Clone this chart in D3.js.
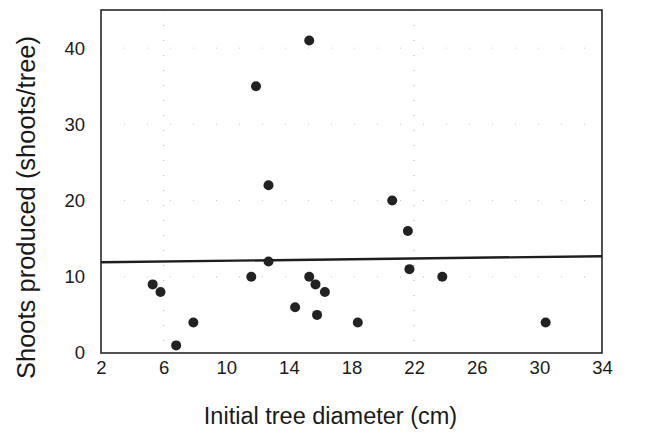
<!DOCTYPE html>
<html>
<head>
<meta charset="utf-8">
<script src="https://cdn.jsdelivr.net/npm/d3@7"></script>
<style>
  html, body { margin: 0; padding: 0; background: #fff; }
  svg { display: block; }
  text { font-family: "Liberation Sans", Arial, Helvetica, sans-serif; fill: #1a1a1a; }
</style>
</head>
<body>
<svg id="chart" width="652" height="434"></svg>
<script>
// Data
const diameters = [5.3, 5.8, 6.8, 7.9, 11.6, 11.9, 12.7, 12.7, 14.4, 15.3, 15.3, 15.7, 15.8, 16.3, 18.4, 20.6, 21.6, 21.7, 23.8, 30.4];
const shoots    = [9,   8,   1,   4,   10,   35,   22,   12,   6,    41,   10,   9,    5,    8,    4,    20,   16,   11,   10,   4];
const xTicks = [2, 6, 10, 14, 18, 22, 26, 30, 34];
const yTicks = [0, 10, 20, 30, 40];
const fitX = [2, 34];
const fitY = [11.9, 12.7];
const gridX = [6, 22];
const gridY = [10, 20, 30, 40];
const xTitle = "Initial tree diameter (cm)";
const yTitle = "Shoots produced (shoots/tree)";

const svg = d3.select("#chart");
const L = 101, R = 602, T = 10, B = 353;

const x = d3.scaleLinear().domain([2, 34]).range([L, R]);
const y = d3.scaleLinear().domain([0, 45]).range([B, T]);

// faint dotted grid (as in the scanned original)
svg.append("g").selectAll("line.gx").data(gridX).join("line")
  .attr("x1", d => x(d)).attr("x2", d => x(d)).attr("y1", T).attr("y2", B)
  .attr("stroke", "#b5b5b5").attr("stroke-width", 1).attr("stroke-dasharray", "1,14");
svg.append("g").selectAll("line.gy").data(gridY).join("line")
  .attr("x1", L).attr("x2", R).attr("y1", d => y(d)).attr("y2", d => y(d))
  .attr("stroke", "#c8c8c8").attr("stroke-width", 1).attr("stroke-dasharray", "1,22");

// axes (labels only, no tick marks)
const xAxis = svg.append("g").attr("transform", `translate(0,${B})`)
  .call(d3.axisBottom(x).tickValues(xTicks).tickSize(0).tickPadding(8).tickFormat(d3.format("d")));
xAxis.select(".domain").remove();
xAxis.selectAll("text").attr("font-size", 18.5).style("font-family", '"Liberation Sans", Arial, sans-serif').attr("fill", "#1a1a1a");

const yAxis = svg.append("g").attr("transform", `translate(${L},0)`)
  .call(d3.axisLeft(y).tickValues(yTicks).tickSize(0).tickPadding(16).tickFormat(d3.format("d")));
yAxis.select(".domain").remove();
yAxis.selectAll("text").attr("font-size", 18.5).style("font-family", '"Liberation Sans", Arial, sans-serif').attr("fill", "#1a1a1a");

// frame
svg.append("rect").attr("x", L).attr("y", T).attr("width", R - L).attr("height", B - T)
  .attr("fill", "none").attr("stroke", "#262626").attr("stroke-width", 1.6);

// regression line
svg.append("line")
  .attr("x1", x(fitX[0])).attr("y1", y(fitY[0]))
  .attr("x2", x(fitX[1])).attr("y2", y(fitY[1]))
  .attr("stroke", "#1e1e1e").attr("stroke-width", 2.4);

// points
svg.append("g").selectAll("circle").data(diameters).join("circle")
  .attr("cx", d => x(d)).attr("cy", (d, i) => y(shoots[i]))
  .attr("r", 5).attr("fill", "#222");

// axis titles
svg.append("text").attr("x", (L + R) / 2 - 21).attr("y", 424)
  .attr("text-anchor", "middle").attr("font-size", 23.5).text(xTitle);
svg.append("text")
  .attr("transform", `translate(35,${(T + B) / 2 + 26}) rotate(-90)`)
  .attr("text-anchor", "middle").attr("font-size", 25.5).text(yTitle);
</script>
</body>
</html>
